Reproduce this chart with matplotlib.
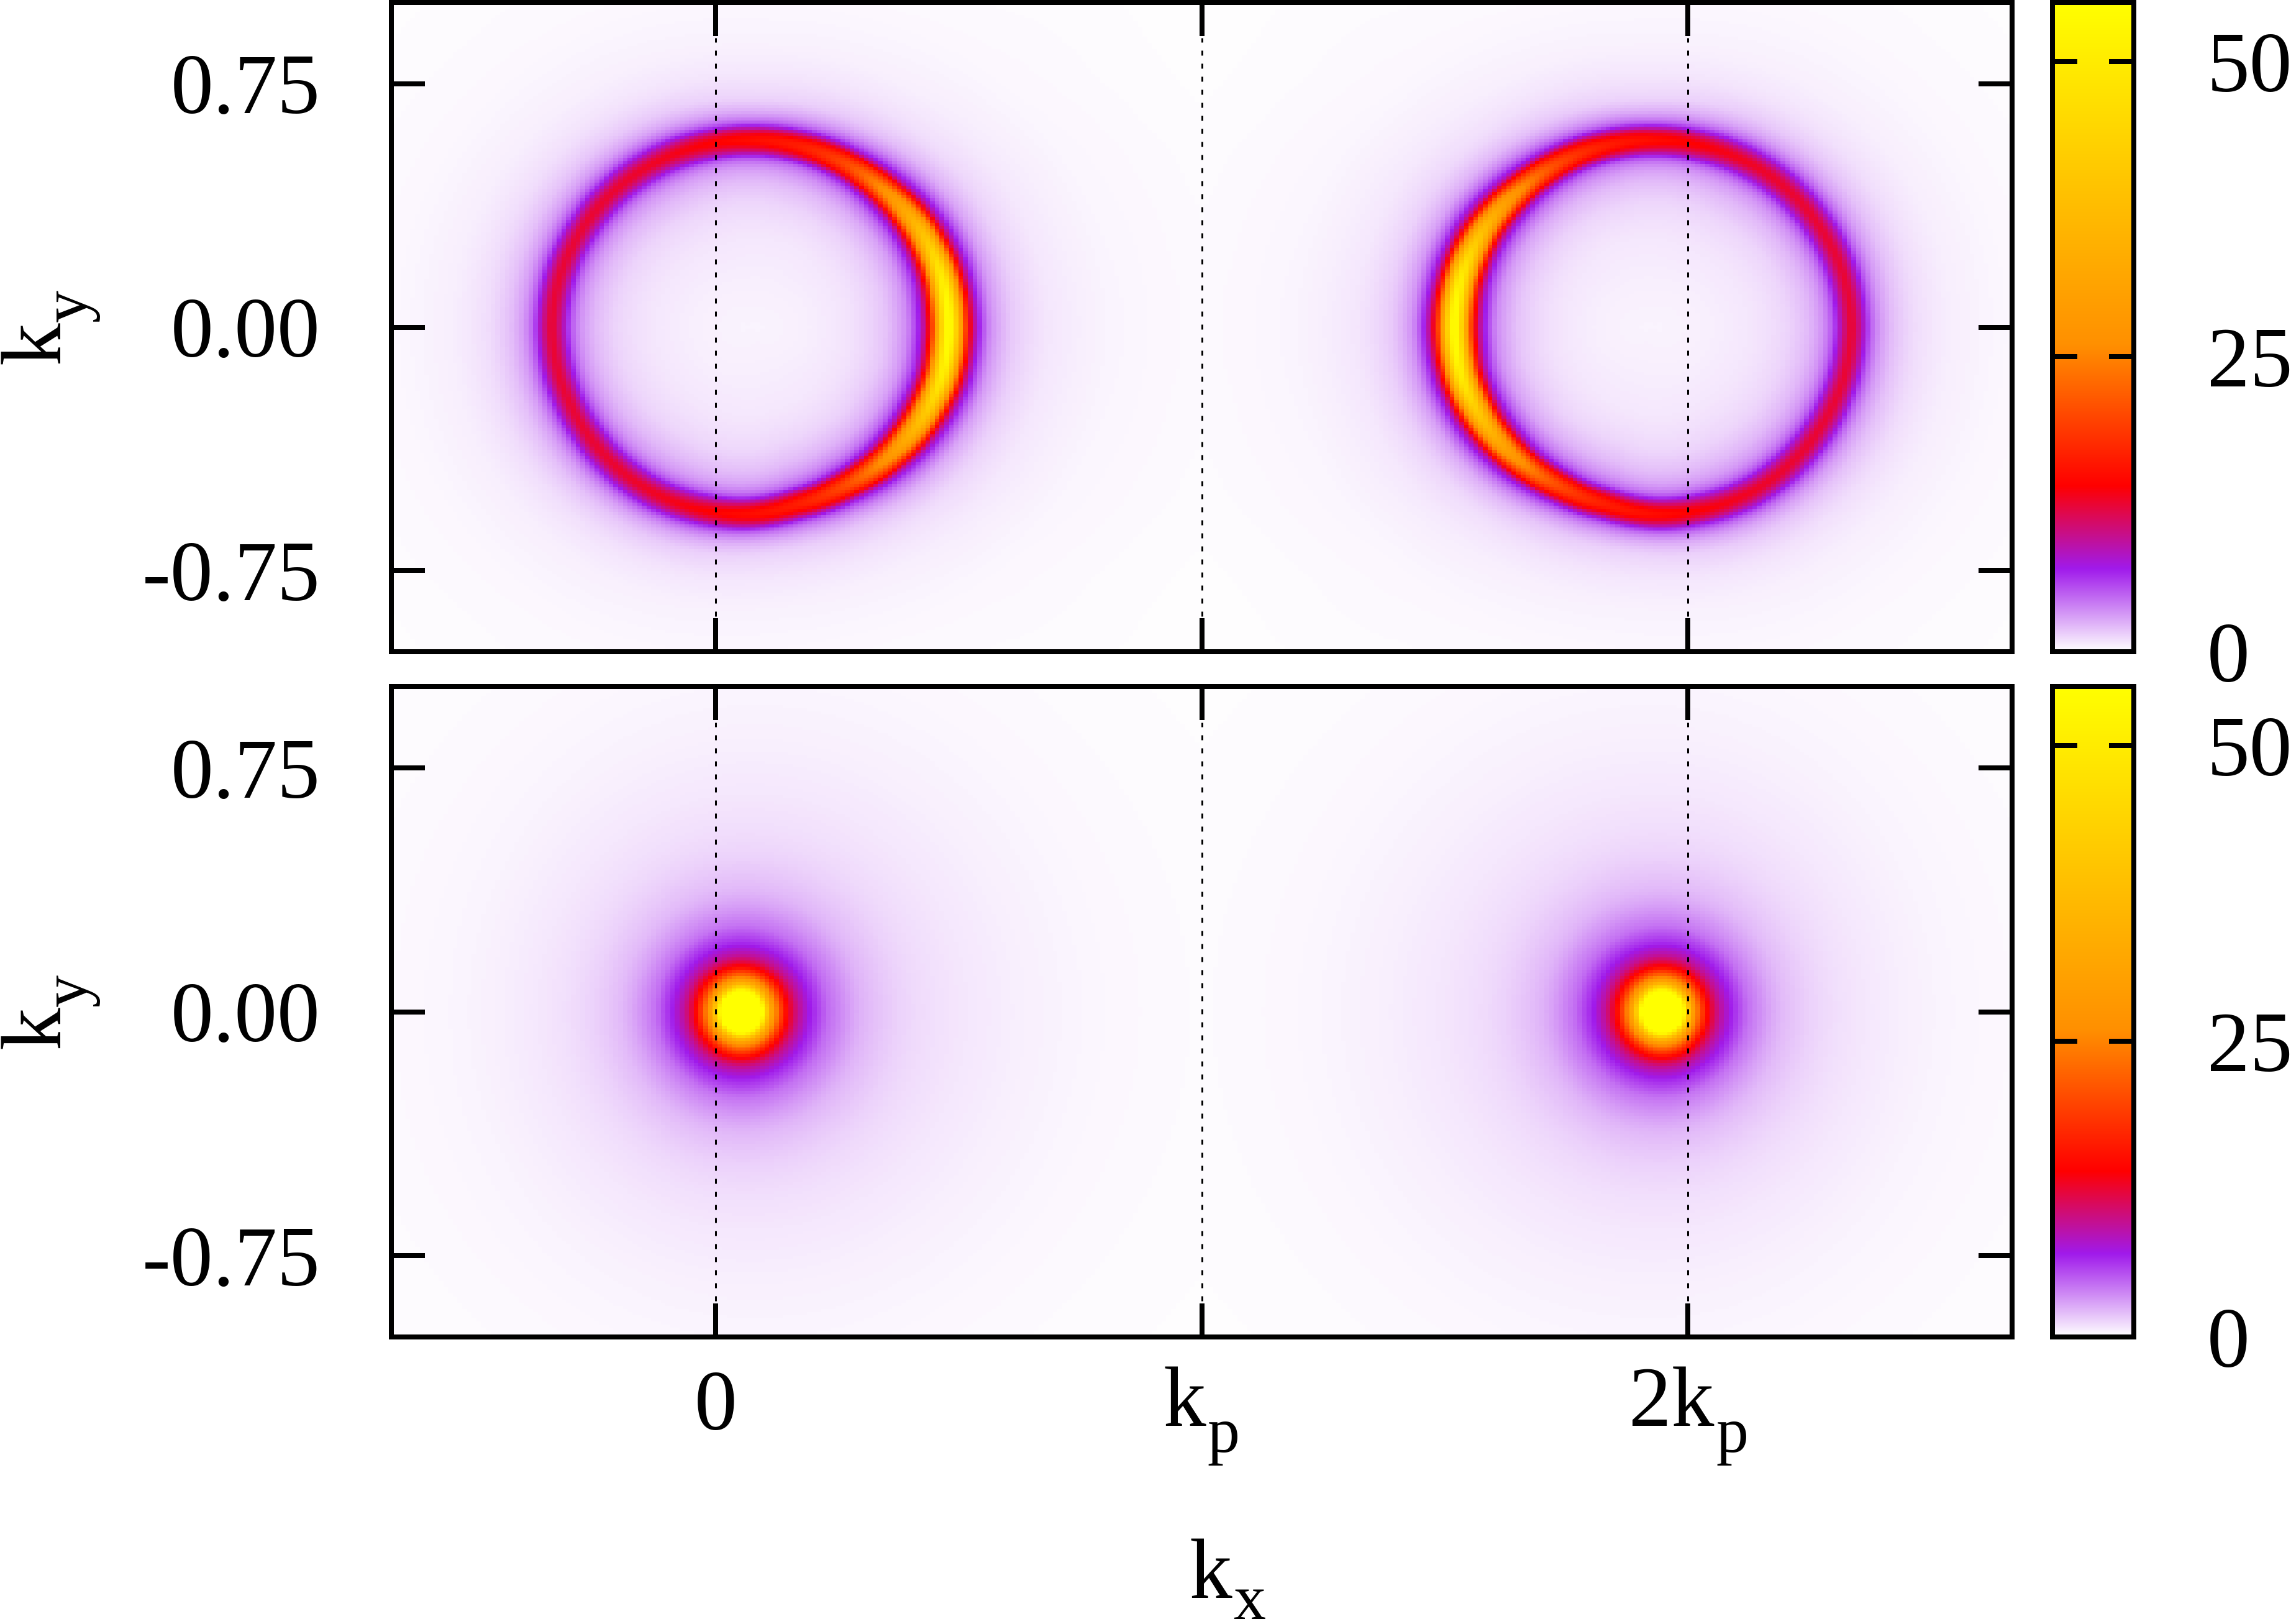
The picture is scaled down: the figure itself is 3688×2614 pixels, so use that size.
import numpy as np
import matplotlib
matplotlib.use("Agg")
import matplotlib.pyplot as plt
import matplotlib.tri as mtri
from matplotlib.colors import LinearSegmentedColormap

plt.rcParams["font.family"] = ["Liberation Serif", "DejaVu Serif"]
plt.rcParams["lines.scale_dashes"] = False

# ==========================
# Values
# ==========================

W, H = 3688, 2614
FONT = 99
SUB_FONT = 75

KP = 1.5
XLIM = (-1.0, 4.0)
YLIM = (-1.0, 1.0)
ZMAX = 55
X_TICKS = [0, KP, 2 * KP]
Y_TICKS = [0.75, 0.0, -0.75]
Y_LABELS = ["0.75", "0.00", "-0.75"]
CB_TICKS = [0, 25, 50]

palette_values = [0, 7, 14, 26, 55]
palette_colors = ["#ffffff", "#a01aeb", "#ff0000", "#ff9000", "#ffff00"]

# ring around its centre: ridge radius by angle
ring_cx = 0.105
ring_angles = [-180, -165, -150, -135, -120, -105, -90, -75, -60, -45, -30, -15, 0,
               15, 30, 45, 60, 75, 90, 105, 120, 135, 150, 165, 180]
ring_radii = [0.609, 0.606, 0.600, 0.595, 0.590, 0.582, 0.575, 0.565, 0.570, 0.585, 0.600, 0.613, 0.615,
              0.613, 0.605, 0.592, 0.584, 0.578, 0.575, 0.578, 0.584, 0.591, 0.598, 0.606, 0.609]

# intensity by angle (rows) and distance from the ridge (columns)
ring_table_angles = [0, 15, 30, 45, 60, 75, 90, 120, 150, 180]
ring_table_dists = [-0.61, -0.45, -0.30, -0.20, -0.13, -0.09, -0.06, -0.03, 0.0,
                    0.03, 0.06, 0.09, 0.13, 0.20, 0.30, 0.50, 0.96, 1.30]
ring_table = [
    [.35, .50, .95, 1.8, 3.6, 7.3, 15.0, 37.0, 55.0, 37.0, 15.0, 7.3, 3.4, 1.6, .80, .35, .12, .06],
    [.35, .50, .90, 1.7, 3.4, 6.5, 13.5, 34.0, 50.0, 34.0, 13.5, 6.5, 3.2, 1.5, .75, .33, .12, .06],
    [.35, .50, .85, 1.6, 3.0, 5.5, 10.8, 26.0, 38.0, 26.0, 10.8, 5.5, 2.8, 1.35, .70, .30, .10, .06],
    [.35, .50, .80, 1.4, 2.6, 4.4, 8.0, 19.0, 27.0, 19.0, 8.0, 4.3, 2.3, 1.1, .60, .25, .10, .06],
    [.35, .50, .75, 1.3, 2.3, 3.6, 6.0, 14.5, 20.0, 14.5, 6.0, 3.3, 1.8, .95, .50, .22, .08, .05],
    [.35, .50, .75, 1.25, 2.1, 3.2, 5.0, 12.0, 16.5, 12.0, 5.0, 2.8, 1.5, .85, .45, .20, .08, .05],
    [.35, .50, .75, 1.2, 2.0, 3.0, 4.8, 11.0, 15.0, 11.0, 4.5, 2.5, 1.35, .78, .42, .20, .08, .05],
    [.35, .50, .80, 1.3, 2.2, 3.2, 5.0, 9.5, 13.0, 9.5, 4.9, 2.9, 1.7, .90, .48, .22, .08, .05],
    [.35, .50, .80, 1.3, 2.2, 3.3, 5.1, 9.2, 12.5, 9.2, 5.0, 3.1, 1.95, 1.05, .55, .24, .08, .05],
    [.35, .50, .80, 1.3, 2.2, 3.3, 5.1, 9.2, 12.5, 9.2, 5.0, 3.1, 1.95, 1.05, .55, .24, .08, .05],
]

# blob in the lower panel: intensity by angle (rows) and radius (columns)
blob_cx = 0.08
blob_angles = [0, 90, 180]
blob_dists = [0.0, 0.019, 0.038, 0.065, 0.096, 0.115, 0.142, 0.172, 0.211, 0.264,
              0.374, 0.527, 0.670, 0.862, 1.149, 1.533, 2.682]
blob_table = [
    [95, 92, 80, 55, 30, 22, 14, 10.0, 7.0, 4.6, 2.3, 1.20, .80, .50, .25, .12, .05],
    [95, 92, 80, 55, 30, 22, 14, 9.6, 6.6, 4.3, 2.2, 1.15, .75, .45, .22, .10, .05],
    [95, 92, 80, 55, 30, 22, 14, 10.0, 7.0, 4.4, 2.1, 1.05, .65, .35, .18, .10, .05],
]

# ==========================
# Build the images
# ==========================

NX, NY = 343, 209
xc = XLIM[0] + (np.arange(NX) + 0.5) * (XLIM[1] - XLIM[0]) / NX
yc = YLIM[0] + (np.arange(NY) + 0.5) * (YLIM[1] - YLIM[0]) / NY
X, Y = np.meshgrid(xc, yc)
# right half of each panel mirrors the left half about k_p
X_fold = KP - np.abs(X - KP)


def polar_image(cx, angles, dists, table, ridge_angles=None, ridge_radii=None):
    table = np.log(np.array(table, dtype=float))
    n, m = table.shape
    full = np.vstack([table[1], table, table[-2]])
    ii, jj = np.meshgrid(np.arange(-1, n + 1), np.arange(m), indexing="ij")
    tri = mtri.Triangulation(ii.ravel().astype(float), jj.ravel().astype(float))
    interp = mtri.CubicTriInterpolator(tri, full.ravel(), kind="geom")

    theta = np.degrees(np.arctan2(Y, X_fold - cx))
    radius = np.hypot(X_fold - cx, Y)
    if ridge_angles is not None:
        radius = radius - np.interp(theta, ridge_angles, ridge_radii)
    ti = np.interp(np.abs(theta), angles, np.arange(n))
    di = np.interp(radius, dists, np.arange(m))
    return np.exp(np.ma.filled(interp(ti, di), np.log(0.05)))


ring_image = polar_image(ring_cx, ring_table_angles, ring_table_dists, ring_table, ring_angles, ring_radii)
blob_image = polar_image(blob_cx, blob_angles, blob_dists, blob_table)

cmap = LinearSegmentedColormap.from_list(
    "ring", [(v / ZMAX, c) for v, c in zip(palette_values, palette_colors)], N=1024
)

# ==========================
# Plot
# ==========================

fig = plt.figure(figsize=(W / 100, H / 100), dpi=100, facecolor="white")


def add_axes_px(left, top, right, bottom):
    return fig.add_axes([left / W, 1 - bottom / H, (right - left) / W, (bottom - top) / H])


def px_to_pt(p):
    return p * 0.72


def text_px(x, y, s, size=FONT, **kwargs):
    fig.text(x / W, 1 - y / H, s, fontsize=size, va="baseline", **kwargs)


panels = [(ring_image, 4, 1049, False), (blob_image, 1105, 2152, True)]

for image, top, bottom, show_x in panels:
    ax = add_axes_px(630, top, 3239, bottom)
    ax.imshow(image, origin="lower", extent=[*XLIM, *YLIM], aspect="auto",
              interpolation="nearest", cmap=cmap, vmin=0, vmax=ZMAX)
    for tick in X_TICKS:
        ax.axvline(tick, ymin=0.055, ymax=0.945, color="black", lw=px_to_pt(3),
                   dashes=(px_to_pt(8), px_to_pt(13)))
    ax.set_xlim(XLIM)
    ax.set_ylim(YLIM)
    ax.set_xticks(X_TICKS)
    ax.set_xticklabels(["0", "", ""] if show_x else ["", "", ""])
    ax.set_yticks(Y_TICKS)
    ax.set_yticklabels(Y_LABELS)
    ax.tick_params(direction="in", top=True, right=True, length=px_to_pt(54), width=px_to_pt(8),
                   labelsize=FONT)
    ax.tick_params(axis="y", pad=px_to_pt(114))
    ax.tick_params(axis="x", pad=px_to_pt(53))
    for spine in ax.spines.values():
        spine.set_linewidth(px_to_pt(8))

    cax = add_axes_px(3304, top, 3435, bottom)
    cax.imshow(np.linspace(0, ZMAX, 512)[:, None], origin="lower", extent=[0, 1, 0, ZMAX],
               aspect="auto", cmap=cmap, vmin=0, vmax=ZMAX)
    cax.set_xticks([])
    cax.set_yticks(CB_TICKS)
    cax.yaxis.tick_right()
    cax.tick_params(axis="y", direction="in", left=True, right=True, length=px_to_pt(40),
                    width=px_to_pt(8), labelsize=FONT, pad=px_to_pt(118))
    for spine in cax.spines.values():
        spine.set_linewidth(px_to_pt(8))

    # k_y as separate glyphs, the subscript sits low and large
    mid = (top + bottom) / 2
    text_px(95, mid + 60, "k", rotation=90, rotation_mode="anchor", ha="left")
    text_px(139, mid - 8, "y", size=SUB_FONT, rotation=90, rotation_mode="anchor", ha="left")

text_px(1872, 2295, "k")
text_px(1943, 2337, "p", size=SUB_FONT)
text_px(2622, 2295, "2k")
text_px(2762, 2337, "p", size=SUB_FONT)
text_px(1914, 2572, "k")
text_px(1985, 2606, "x", size=SUB_FONT)

fig.savefig("out.png", dpi=100)
plt.close(fig)
